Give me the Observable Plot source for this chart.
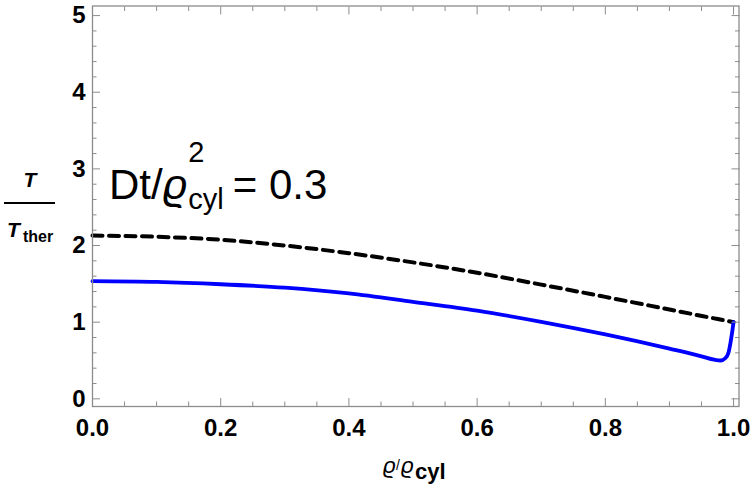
<!DOCTYPE html>
<html>
<head>
<meta charset="utf-8">
<script src="https://cdn.jsdelivr.net/npm/d3@7"></script>
<script src="https://cdn.jsdelivr.net/npm/@observablehq/plot@0.6"></script>
<style>
  html, body { margin: 0; padding: 0; background: #fff; }
  #chart { width: 750px; height: 488px; }
</style>
</head>
<body>
<div id="chart"></div>
<script>
// Radial temperature profile T/T_ther against ϱ/ϱ_cyl at Dt/ϱ²_cyl = 0.3
const rho = [0, 0.1, 0.2, 0.3, 0.4, 0.5, 0.6, 0.7, 0.8, 0.9, 1.0];
const dashedT = [2.13, 2.115, 2.075, 2.0, 1.9, 1.78, 1.645, 1.49, 1.33, 1.165, 1.0];

const rhoSolid = [0, 0.1, 0.2, 0.3, 0.4, 0.5, 0.6, 0.7, 0.8, 0.9, 0.95, 0.97, 0.98, 0.987, 0.992, 0.995, 0.998, 1.0];
const solidT  = [1.535, 1.525, 1.495, 1.45, 1.375, 1.265, 1.15, 1.005, 0.84, 0.655, 0.555, 0.51, 0.5, 0.53, 0.6, 0.72, 0.88, 1.0];

const xMajorTicks = [0, 0.2, 0.4, 0.6, 0.8, 1.0];
const xMinorTicks = [0.05, 0.1, 0.15, 0.25, 0.3, 0.35, 0.45, 0.5, 0.55, 0.65, 0.7, 0.75, 0.85, 0.9, 0.95];
const yMajorTicks = [0, 1, 2, 3, 4, 5];
const yMinorTicks = [0.2, 0.4, 0.6, 0.8, 1.2, 1.4, 1.6, 1.8, 2.2, 2.4, 2.6, 2.8, 3.2, 3.4, 3.6, 3.8, 4.2, 4.4, 4.6, 4.8];

const dashedData = rho.map((r, i) => ({r, T: dashedT[i]}));
const solidData = rhoSolid.map((r, i) => ({r, T: solidT[i]}));

const gray = "#8c8c8c";
const blank = () => "";

const svg = Plot.plot({
  width: 750,
  height: 488,
  marginLeft: 92,
  marginRight: 11.5,
  marginTop: 5.5,
  marginBottom: 82,
  x: {domain: [0, 1.0085]},
  y: {domain: [-0.1, 5.125]},
  style: {
    fontFamily: "'Liberation Sans', Arial, sans-serif",
    fontSize: "24px",
    fontWeight: "bold",
    background: "white",
    color: "black"
  },
  marks: [
    Plot.line(dashedData, {x: "r", y: "T", stroke: "black", strokeWidth: 4, strokeDasharray: "10,6.5", curve: "monotone-x"}),
    Plot.line(solidData, {x: "r", y: "T", stroke: "#0000ff", strokeWidth: 3.8, curve: "monotone-x"}),
    Plot.frame({stroke: gray, strokeWidth: 1.3}),
    // bottom and left ticks (pointing inward) with labels
    Plot.axisX(xMajorTicks, {anchor: "bottom", tickSize: -8, stroke: gray, tickFormat: blank, label: null}),
    Plot.axisX(xMinorTicks, {anchor: "bottom", tickSize: -4.5, stroke: gray, tickFormat: blank, label: null}),
    Plot.axisX(xMajorTicks, {anchor: "bottom", tickSize: 0, tickPadding: 12, tickFormat: d => d.toFixed(1), fill: "black", label: null}),
    Plot.axisY(yMajorTicks, {anchor: "left", tickSize: -8, stroke: gray, tickFormat: blank, label: null}),
    Plot.axisY(yMinorTicks, {anchor: "left", tickSize: -4.5, stroke: gray, tickFormat: blank, label: null}),
    Plot.axisY(yMajorTicks, {anchor: "left", tickSize: 0, tickPadding: 7, tickFormat: d => String(d), fill: "black", label: null}),
    // mirrored ticks on top and right
    Plot.axisX(xMajorTicks, {anchor: "top", tickSize: -8, stroke: gray, tickFormat: blank, label: null}),
    Plot.axisX(xMinorTicks, {anchor: "top", tickSize: -4.5, stroke: gray, tickFormat: blank, label: null}),
    Plot.axisY(yMajorTicks, {anchor: "right", tickSize: -8, stroke: gray, tickFormat: blank, label: null}),
    Plot.axisY(yMinorTicks, {anchor: "right", tickSize: -4.5, stroke: gray, tickFormat: blank, label: null})
  ]
});

document.getElementById("chart").appendChild(svg);

const s = d3.select(svg);
const font = "'Liberation Sans', Arial, sans-serif";

// styled text helper: inline styles so the plot's stylesheet does not override them
function txt(x, y, size, text, {weight = "normal", italic = false, anchor = "start"} = {}) {
  return s.append("text")
    .attr("x", x).attr("y", y)
    .style("font-family", font)
    .style("font-size", size + "px")
    .style("font-weight", weight)
    .style("font-style", italic ? "italic" : "normal")
    .style("text-anchor", anchor)
    .style("fill", "black")
    .text(text);
}
const right = t => { const b = t.node().getBBox(); return b.x + b.width; };

// y-axis label: T over T_ther
txt(30, 187, 21, "T", {weight: "bold", italic: true, anchor: "middle"});
s.append("line").attr("x1", 4).attr("x2", 55).attr("y1", 203).attr("y2", 203)
  .attr("stroke", "black").attr("stroke-width", 2);
const tDen = txt(7, 237, 21, "T", {weight: "bold", italic: true});
txt(right(tDen) + 1, 242, 16, "ther", {weight: "bold"});

// x-axis label: ϱ/ϱ_cyl
const r1 = txt(383, 473, 22, "ϱ", {italic: true});
const sl = txt(right(r1), 470, 14, "/");
const r2 = txt(right(sl) + 1, 473, 22, "ϱ", {italic: true});
txt(right(r2) + 1, 479, 22, "cyl", {weight: "bold"});

// annotation: Dt/ϱ²_cyl = 0.3
const a1 = txt(109, 199, 42, "Dt/");
const a2 = txt(right(a1), 199, 42, "ϱ", {italic: true});
const scriptX = right(a2) + 1;
txt(scriptX, 162, 29, "2");
const sub = txt(scriptX, 209, 29, "cyl");
txt(right(sub) + 9, 199, 42, "= 0.3");
</script>
</body>
</html>
